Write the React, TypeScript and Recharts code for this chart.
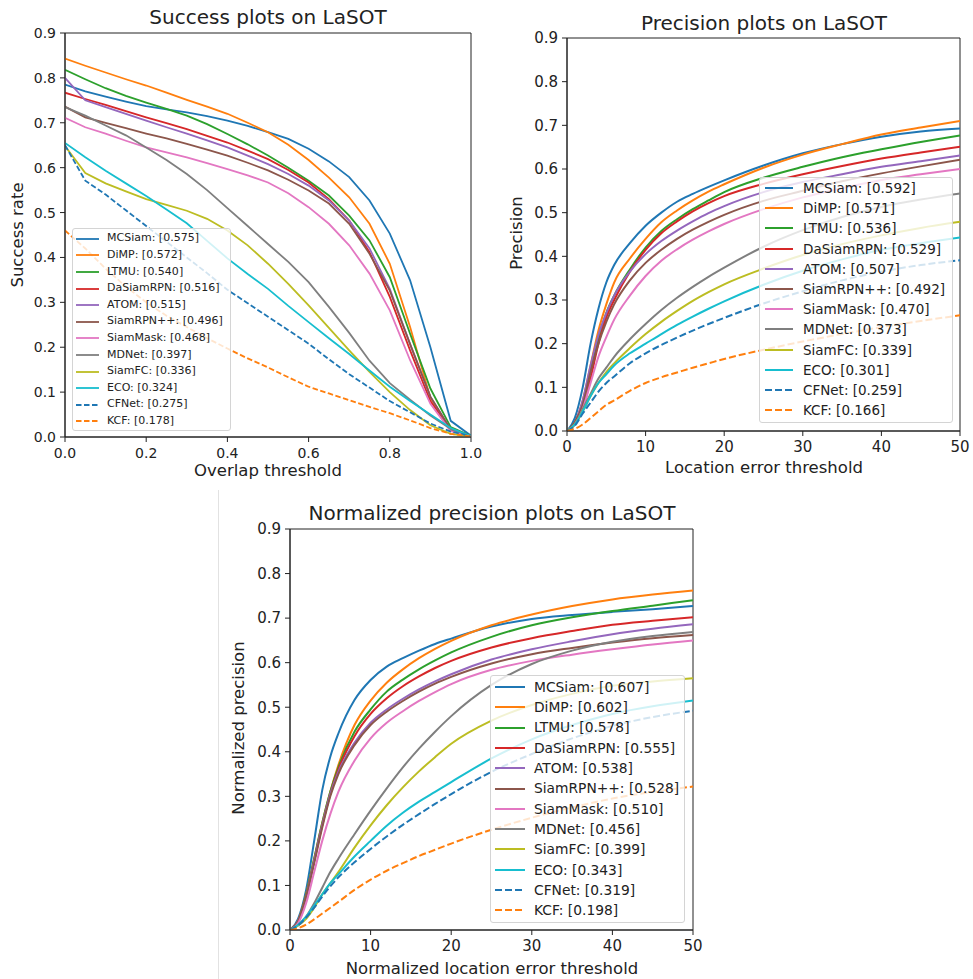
import React from 'react';
import { LineChart, Line, XAxis, YAxis, ReferenceArea } from 'recharts';

const FONT = '"DejaVu Sans", Verdana, sans-serif';
const INK = '#222';

const trackers = ['MCSiam', 'DiMP', 'LTMU', 'DaSiamRPN', 'ATOM', 'SiamRPN++', 'SiamMask', 'MDNet', 'SiamFC', 'ECO', 'CFNet', 'KCF'];
const colors = ['#1f77b4', '#ff7f0e', '#2ca02c', '#d62728', '#9467bd', '#8c564b', '#e377c2', '#7f7f7f', '#bcbd22', '#17becf', '#1f77b4', '#ff7f0e'];
const dashed = [false, false, false, false, false, false, false, false, false, false, true, true];

const successScores = ['0.575', '0.572', '0.540', '0.516', '0.515', '0.496', '0.468', '0.397', '0.336', '0.324', '0.275', '0.178'];
const precisionScores = ['0.592', '0.571', '0.536', '0.529', '0.507', '0.492', '0.470', '0.373', '0.339', '0.301', '0.259', '0.166'];
const normScores = ['0.607', '0.602', '0.578', '0.555', '0.538', '0.528', '0.510', '0.456', '0.399', '0.343', '0.319', '0.198'];

const yTicks = [0, 0.1, 0.2, 0.3, 0.4, 0.5, 0.6, 0.7, 0.8, 0.9];
const overlapTicks = [0, 0.2, 0.4, 0.6, 0.8, 1.0];
const errorTicks = [0, 10, 20, 30, 40, 50];

// success plot: overlap thresholds 0:0.05:1
const overlapThresholds = [0, 0.05, 0.1, 0.15, 0.2, 0.25, 0.3, 0.35, 0.4, 0.45, 0.5, 0.55, 0.6, 0.65, 0.7, 0.75, 0.8, 0.85, 0.9, 0.95, 1.0];
const succMCSiam = [0.785, 0.77, 0.758, 0.747, 0.737, 0.73, 0.723, 0.715, 0.705, 0.693, 0.679, 0.664, 0.642, 0.614, 0.579, 0.527, 0.453, 0.349, 0.2, 0.036, 0.003];
const succDiMP = [0.843, 0.827, 0.812, 0.797, 0.783, 0.767, 0.751, 0.736, 0.72, 0.70, 0.679, 0.651, 0.617, 0.578, 0.534, 0.475, 0.386, 0.245, 0.087, 0.015, 0.002];
const succLTMU = [0.818, 0.797, 0.777, 0.76, 0.745, 0.731, 0.716, 0.697, 0.675, 0.652, 0.627, 0.6, 0.571, 0.538, 0.493, 0.438, 0.356, 0.23, 0.108, 0.022, 0.002];
const succDaSiamRPN = [0.767, 0.753, 0.74, 0.726, 0.712, 0.699, 0.686, 0.671, 0.656, 0.638, 0.619, 0.595, 0.567, 0.53, 0.482, 0.412, 0.312, 0.193, 0.08, 0.017, 0.002];
const succATOM = [0.80, 0.75, 0.735, 0.72, 0.705, 0.69, 0.676, 0.661, 0.645, 0.627, 0.608, 0.586, 0.56, 0.527, 0.482, 0.42, 0.33, 0.207, 0.09, 0.017, 0.002];
const succSiamRPNpp = [0.736, 0.712, 0.70, 0.688, 0.676, 0.665, 0.653, 0.64, 0.627, 0.611, 0.594, 0.573, 0.549, 0.52, 0.475, 0.408, 0.326, 0.207, 0.09, 0.017, 0.002];
const succSiamMask = [0.711, 0.69, 0.676, 0.66, 0.645, 0.634, 0.623, 0.61, 0.597, 0.583, 0.567, 0.543, 0.512, 0.475, 0.427, 0.364, 0.282, 0.171, 0.074, 0.013, 0.002];
const succMDNet = [0.735, 0.716, 0.694, 0.672, 0.645, 0.617, 0.586, 0.55, 0.51, 0.47, 0.43, 0.39, 0.345, 0.29, 0.232, 0.17, 0.12, 0.083, 0.048, 0.018, 0.002];
const succSiamFC = [0.648, 0.588, 0.565, 0.547, 0.53, 0.517, 0.504, 0.486, 0.46, 0.427, 0.386, 0.341, 0.293, 0.243, 0.193, 0.145, 0.1, 0.06, 0.026, 0.007, 0.001];
const succECO = [0.655, 0.623, 0.593, 0.565, 0.537, 0.507, 0.476, 0.437, 0.398, 0.363, 0.33, 0.292, 0.256, 0.22, 0.185, 0.148, 0.112, 0.08, 0.05, 0.02, 0.002];
const succCFNet = [0.65, 0.571, 0.54, 0.505, 0.47, 0.435, 0.40, 0.365, 0.328, 0.298, 0.268, 0.238, 0.208, 0.173, 0.14, 0.11, 0.08, 0.055, 0.03, 0.012, 0.002];
const succKCF = [0.46, 0.42, 0.375, 0.335, 0.30, 0.27, 0.245, 0.22, 0.197, 0.175, 0.155, 0.133, 0.112, 0.097, 0.082, 0.067, 0.053, 0.037, 0.02, 0.007, 0.001];

// precision + normalized precision: location error thresholds
const errorThresholds = [0, 1, 2, 3, 4, 5, 6, 8, 10, 12, 14, 16, 18, 20, 25, 30, 35, 40, 45, 50];
const precMCSiam = [0, 0.03, 0.10, 0.20, 0.28, 0.34, 0.38, 0.43, 0.47, 0.50, 0.525, 0.543, 0.559, 0.574, 0.608, 0.636, 0.657, 0.674, 0.686, 0.693];
const precDiMP = [0, 0.02, 0.07, 0.15, 0.23, 0.29, 0.34, 0.395, 0.44, 0.478, 0.505, 0.528, 0.548, 0.565, 0.603, 0.633, 0.657, 0.679, 0.695, 0.71];
const precLTMU = [0, 0.02, 0.065, 0.14, 0.21, 0.27, 0.31, 0.37, 0.42, 0.458, 0.485, 0.508, 0.528, 0.547, 0.58, 0.605, 0.627, 0.645, 0.662, 0.677];
const precDaSiamRPN = [0, 0.015, 0.05, 0.12, 0.2, 0.26, 0.30, 0.365, 0.415, 0.453, 0.48, 0.503, 0.522, 0.538, 0.566, 0.588, 0.607, 0.624, 0.638, 0.651];
const precATOM = [0, 0.02, 0.07, 0.15, 0.22, 0.27, 0.31, 0.365, 0.405, 0.435, 0.459, 0.48, 0.499, 0.515, 0.547, 0.57, 0.588, 0.605, 0.618, 0.631];
const precSiamRPNpp = [0, 0.02, 0.06, 0.135, 0.2, 0.25, 0.29, 0.345, 0.385, 0.415, 0.44, 0.461, 0.479, 0.495, 0.527, 0.55, 0.572, 0.59, 0.606, 0.621];
const precSiamMask = [0, 0.015, 0.05, 0.11, 0.17, 0.215, 0.255, 0.31, 0.355, 0.39, 0.416, 0.438, 0.457, 0.474, 0.508, 0.535, 0.556, 0.575, 0.588, 0.6];
const precMDNet = [0, 0.015, 0.05, 0.085, 0.12, 0.145, 0.17, 0.21, 0.245, 0.277, 0.305, 0.33, 0.353, 0.374, 0.422, 0.46, 0.49, 0.513, 0.53, 0.544];
const precSiamFC = [0, 0.015, 0.045, 0.08, 0.11, 0.135, 0.155, 0.19, 0.222, 0.25, 0.275, 0.298, 0.318, 0.336, 0.372, 0.403, 0.428, 0.448, 0.465, 0.479];
const precECO = [0, 0.015, 0.045, 0.08, 0.11, 0.13, 0.15, 0.178, 0.2, 0.222, 0.243, 0.262, 0.28, 0.297, 0.335, 0.367, 0.393, 0.415, 0.43, 0.443];
const precCFNet = [0, 0.012, 0.04, 0.065, 0.09, 0.11, 0.125, 0.155, 0.178, 0.197, 0.214, 0.23, 0.245, 0.259, 0.292, 0.32, 0.345, 0.365, 0.38, 0.391];
const precKCF = [0, 0.005, 0.015, 0.03, 0.045, 0.06, 0.07, 0.092, 0.11, 0.123, 0.134, 0.145, 0.155, 0.165, 0.186, 0.205, 0.222, 0.238, 0.252, 0.265];

const normMCSiam = [0, 0.025, 0.09, 0.2, 0.314, 0.389, 0.441, 0.516, 0.561, 0.591, 0.61, 0.627, 0.642, 0.654, 0.681, 0.698, 0.707, 0.714, 0.72, 0.727];
const normDiMP = [0, 0.02, 0.08, 0.16, 0.24, 0.31, 0.37, 0.46, 0.515, 0.555, 0.585, 0.61, 0.631, 0.649, 0.684, 0.708, 0.727, 0.742, 0.753, 0.762];
const normLTMU = [0, 0.02, 0.08, 0.16, 0.24, 0.31, 0.365, 0.445, 0.495, 0.535, 0.562, 0.585, 0.605, 0.623, 0.658, 0.684, 0.702, 0.716, 0.728, 0.74];
const normDaSiamRPN = [0, 0.02, 0.075, 0.155, 0.235, 0.305, 0.36, 0.435, 0.485, 0.52, 0.547, 0.569, 0.588, 0.604, 0.634, 0.655, 0.671, 0.685, 0.694, 0.702];
const normATOM = [0, 0.02, 0.075, 0.155, 0.235, 0.305, 0.355, 0.42, 0.465, 0.495, 0.519, 0.54, 0.558, 0.574, 0.607, 0.63, 0.648, 0.664, 0.676, 0.686];
const normSiamRPNpp = [0, 0.02, 0.075, 0.15, 0.23, 0.3, 0.35, 0.415, 0.46, 0.49, 0.514, 0.535, 0.553, 0.568, 0.598, 0.619, 0.633, 0.645, 0.655, 0.662];
const normSiamMask = [0, 0.015, 0.06, 0.13, 0.2, 0.26, 0.31, 0.38, 0.43, 0.465, 0.491, 0.514, 0.534, 0.552, 0.584, 0.604, 0.618, 0.63, 0.641, 0.65];
const normMDNet = [0, 0.01, 0.03, 0.06, 0.095, 0.13, 0.16, 0.215, 0.268, 0.318, 0.365, 0.407, 0.445, 0.48, 0.55, 0.597, 0.627, 0.647, 0.66, 0.669];
const normSiamFC = [0, 0.01, 0.025, 0.05, 0.08, 0.105, 0.13, 0.185, 0.235, 0.28, 0.32, 0.356, 0.388, 0.418, 0.47, 0.505, 0.53, 0.548, 0.558, 0.565];
const normECO = [0, 0.012, 0.03, 0.055, 0.08, 0.105, 0.125, 0.165, 0.2, 0.234, 0.263, 0.288, 0.31, 0.332, 0.385, 0.428, 0.46, 0.485, 0.502, 0.515];
const normCFNet = [0, 0.01, 0.028, 0.05, 0.075, 0.098, 0.118, 0.152, 0.182, 0.21, 0.236, 0.26, 0.283, 0.305, 0.355, 0.395, 0.43, 0.458, 0.478, 0.492];
const normKCF = [0, 0.004, 0.012, 0.024, 0.037, 0.05, 0.063, 0.09, 0.113, 0.133, 0.15, 0.166, 0.18, 0.194, 0.225, 0.252, 0.275, 0.295, 0.31, 0.322];

const successSeries = [succMCSiam, succDiMP, succLTMU, succDaSiamRPN, succATOM, succSiamRPNpp, succSiamMask, succMDNet, succSiamFC, succECO, succCFNet, succKCF];
const precisionSeries = [precMCSiam, precDiMP, precLTMU, precDaSiamRPN, precATOM, precSiamRPNpp, precSiamMask, precMDNet, precSiamFC, precECO, precCFNet, precKCF];
const normSeries = [normMCSiam, normDiMP, normLTMU, normDaSiamRPN, normATOM, normSiamRPNpp, normSiamMask, normMDNet, normSiamFC, normECO, normCFNet, normKCF];

function buildRows(xs: number[], series: number[][]) {
  return xs.map((x, i) => {
    const row: Record<string, number> = { x };
    series.forEach((s, k) => {
      row['s' + k] = s[i];
    });
    return row;
  });
}

const successRows = buildRows(overlapThresholds, successSeries);
const precisionRows = buildRows(errorThresholds, precisionSeries);
const normRows = buildRows(errorThresholds, normSeries);

type Margin = { top: number; right: number; bottom: number; left: number };

function Panel(props: {
  left: number; top: number; width: number; height: number; margin: Margin;
  rows: Record<string, number>[]; xMax: number; xTicks: number[]; xFmt: (v: number) => string;
  fontSize: number; tickMargin: number; lineWidth: number; curve: 'linear' | 'monotone'; dash: string;
}) {
  const { left, top, width, height, margin, rows, xMax, xTicks, xFmt, fontSize, tickMargin, lineWidth, curve, dash } = props;
  const tickStyle = { fill: INK, fontSize, fontFamily: FONT };
  return (
    <div style={{ position: 'absolute', left, top }}>
      <LineChart width={width} height={height} data={rows} margin={margin}>
        <XAxis
          type="number"
          dataKey="x"
          domain={[0, xMax]}
          ticks={xTicks}
          interval={0}
          tickFormatter={xFmt}
          tick={tickStyle}
          tickSize={5}
          tickMargin={tickMargin}
          height={30}
          axisLine={{ stroke: INK }}
          tickLine={{ stroke: INK }}
          allowDataOverflow
        />
        <YAxis
          type="number"
          domain={[0, 0.9]}
          ticks={yTicks}
          interval={0}
          tickFormatter={(v: number) => v.toFixed(1)}
          tick={tickStyle}
          tickSize={5}
          tickMargin={4}
          width={45}
          axisLine={{ stroke: INK }}
          tickLine={{ stroke: INK }}
          allowDataOverflow
        />
        {trackers.map((name, k) => (
          <Line
            key={name}
            type={curve}
            dataKey={'s' + k}
            name={name}
            stroke={colors[k]}
            strokeWidth={lineWidth}
            strokeDasharray={dashed[k] ? dash : undefined}
            dot={false}
            activeDot={false}
            isAnimationActive={false}
          />
        ))}
        <ReferenceArea x1={0} x2={xMax} y1={0} y2={0.9} fill="none" fillOpacity={0} stroke={INK} strokeWidth={1} />
      </LineChart>
    </div>
  );
}

function LegendBox(props: {
  left: number; top: number; width: number; height: number; scores: string[];
  firstRow: number; rowH: number; sampleX: number; sampleW: number; textX: number;
  fontSize: number; lineWidth: number; dash: string;
}) {
  const { left, top, width, height, scores, firstRow, rowH, sampleX, sampleW, textX, fontSize, lineWidth, dash } = props;
  return (
    <div
      style={{
        position: 'absolute', left, top, width, height, boxSizing: 'border-box',
        border: '1px solid #d4d4d4', borderRadius: 3, background: 'rgba(255,255,255,0.8)',
      }}
    >
      {trackers.map((name, k) => {
        const cy = firstRow + k * rowH;
        return (
          <React.Fragment key={name}>
            <svg style={{ position: 'absolute', left: sampleX, top: cy - 4 }} width={sampleW} height={8}>
              <line x1={0} x2={sampleW} y1={4} y2={4} stroke={colors[k]} strokeWidth={lineWidth}
                strokeDasharray={dashed[k] ? dash : undefined} />
            </svg>
            <div
              style={{
                position: 'absolute', left: textX, top: cy - rowH / 2, height: rowH, lineHeight: rowH + 'px',
                fontSize, fontFamily: FONT, color: INK, whiteSpace: 'nowrap',
              }}
            >
              {name}: [{scores[k]}]
            </div>
          </React.Fragment>
        );
      })}
    </div>
  );
}

function Text(props: { x: number; y: number; size: number; children: React.ReactNode; rotate?: boolean }) {
  const { x, y, size, children, rotate } = props;
  return (
    <div
      style={{
        position: 'absolute', left: x, top: y, fontSize: size, fontFamily: FONT, color: INK,
        whiteSpace: 'nowrap', lineHeight: 1,
        transform: rotate ? 'translate(-50%, -50%) rotate(-90deg)' : 'translate(-50%, -50%)',
      }}
    >
      {children}
    </div>
  );
}

export default function App() {
  return (
    <div style={{ position: 'absolute', left: 0, top: 0, width: 973, height: 979, background: '#fff', overflow: 'hidden' }}>
      {/* success */}
      <Panel left={0} top={0} width={492} height={480}
        margin={{ top: 33, right: 21, bottom: 13, left: 20 }}
        rows={successRows} xMax={1} xTicks={overlapTicks} xFmt={(v) => v.toFixed(1)}
        fontSize={14} tickMargin={6} lineWidth={1.8} curve="linear" dash="5.5 2.5" />
      <Text x={268} y={17} size={20}>Success plots on LaSOT</Text>
      <Text x={268} y={471} size={16.5}>Overlap threshold</Text>
      <Text x={18} y={235} size={16.5} rotate>Success rate</Text>
      <LegendBox left={72} top={228} width={159} height={203} scores={successScores}
        firstRow={9.7} rowH={16.6} sampleX={3} sampleW={23} textX={34} fontSize={11} lineWidth={1.8} dash="5.5 2.5" />

      {/* precision */}
      <Panel left={490} top={0} width={483} height={480}
        margin={{ top: 38, right: 13, bottom: 19, left: 32 }}
        rows={precisionRows} xMax={50} xTicks={errorTicks} xFmt={(v) => String(v)}
        fontSize={15} tickMargin={5.5} lineWidth={2} curve="monotone" dash="7 3" />
      <Text x={764} y={23} size={20}>Precision plots on LaSOT</Text>
      <Text x={764} y={468} size={16.5}>Location error threshold</Text>
      <Text x={517} y={233} size={16.5} rotate>Precision</Text>
      <LegendBox left={759} top={177} width={194} height={246} scores={precisionScores}
        firstRow={10} rowH={20.2} sampleX={5} sampleW={28} textX={43} fontSize={13.5} lineWidth={2} dash="7 3" />

      {/* normalized precision */}
      <div style={{ position: 'absolute', left: 218, top: 490, width: 1, height: 489, background: '#e2e2e2' }} />
      <Panel left={220} top={490} width={490} height={489}
        margin={{ top: 39, right: 17, bottom: 19, left: 25 }}
        rows={normRows} xMax={50} xTicks={errorTicks} xFmt={(v) => String(v)}
        fontSize={15} tickMargin={5.5} lineWidth={2} curve="monotone" dash="7 3" />
      <Text x={492} y={513} size={20}>Normalized precision plots on LaSOT</Text>
      <Text x={492} y={969} size={16.5}>Normalized location error threshold</Text>
      <Text x={239} y={728} size={16.5} rotate>Normalized precision</Text>
      <LegendBox left={490} top={675} width={195} height={248} scores={normScores}
        firstRow={11} rowH={20.3} sampleX={4} sampleW={30} textX={43} fontSize={13.8} lineWidth={2} dash="7 3" />
    </div>
  );
}
